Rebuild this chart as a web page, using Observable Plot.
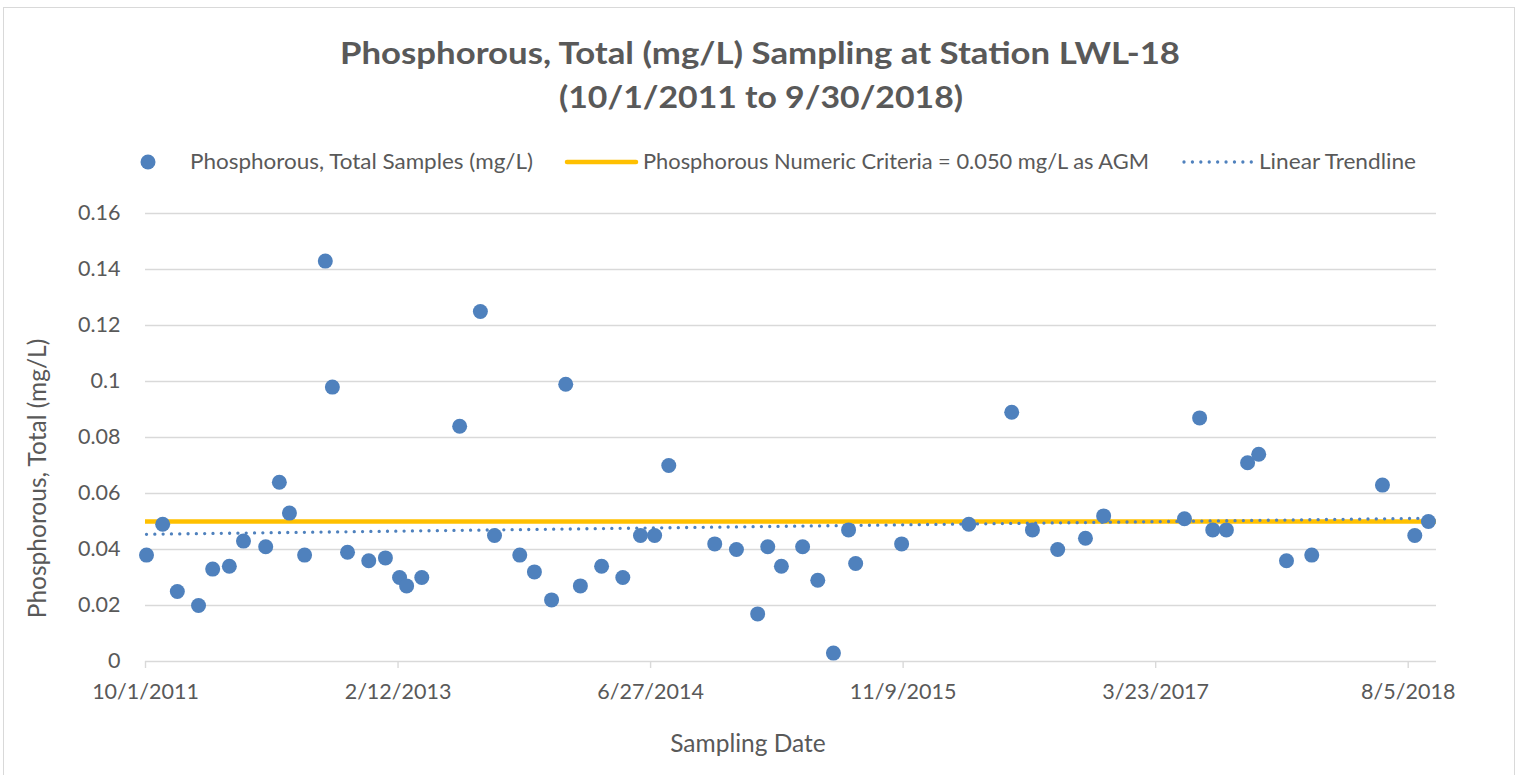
<!DOCTYPE html>
<html>
<head>
<meta charset="utf-8">
<script src="https://cdn.jsdelivr.net/npm/d3@7"></script>
<script src="https://cdn.jsdelivr.net/npm/@observablehq/plot@0.6"></script>
<style>
  html, body { margin: 0; padding: 0; background: #fff; }
  #chart { position: relative; width: 1519px; height: 775px; overflow: hidden; font-family: Lato, "Open Sans", sans-serif; color: #595959; }
  #frame { position: absolute; left: 3px; top: 7px; width: 1512px; height: 800px; border: 1.5px solid #d9d9d9; box-sizing: border-box; }
  #head { position: absolute; left: 0; top: 0; }
  #plot { position: absolute; left: 0; top: 195px; }
</style>
</head>
<body>
<div id="chart">
  <div id="frame"></div>
  <svg id="head" width="1519" height="195" font-family="Lato, 'Open Sans', sans-serif" fill="#595959"></svg>
  <div id="plot"></div>
</div>
<script>
// ---- data ----
const titleLines = ["Phosphorous, Total (mg/L) Sampling at Station LWL-18", "(10/1/2011 to 9/30/2018)"];
const legendLabels = ["Phosphorous, Total Samples (mg/L)", "Phosphorous Numeric Criteria = 0.050 mg/L as AGM", "Linear Trendline"];
const xAxisTitle = "Sampling Date";
const yAxisTitle = "Phosphorous, Total (mg/L)";

const sampleDates = [
  "2011-10-03","2011-11-04","2011-12-03","2012-01-14","2012-02-11","2012-03-15","2012-04-12","2012-05-26",
  "2012-06-22","2012-07-12","2012-08-11","2012-09-21","2012-10-05","2012-11-04","2012-12-16","2013-01-18",
  "2013-02-15","2013-03-01","2013-03-31","2013-06-14","2013-07-25","2013-08-22","2013-10-11","2013-11-09",
  "2013-12-13","2014-01-10","2014-02-08","2014-03-22","2014-05-03","2014-06-07","2014-07-05","2014-08-02",
  "2014-11-01","2014-12-14","2015-01-25","2015-02-14","2015-03-13","2015-04-24","2015-05-24","2015-06-24",
  "2015-07-24","2015-08-07","2015-11-06","2016-03-18","2016-06-11","2016-07-22","2016-09-10","2016-11-04",
  "2016-12-10","2017-05-19","2017-06-18","2017-07-14","2017-08-10","2017-09-21","2017-10-13","2017-12-07",
  "2018-01-26","2018-06-15","2018-08-18","2018-09-14"
];
const sampleValues = [
  0.038, 0.049, 0.025, 0.020, 0.033, 0.034, 0.043, 0.041,
  0.064, 0.053, 0.038, 0.143, 0.098, 0.039, 0.036, 0.037,
  0.030, 0.027, 0.030, 0.084, 0.125, 0.045, 0.038, 0.032,
  0.022, 0.099, 0.027, 0.034, 0.030, 0.045, 0.045, 0.070,
  0.042, 0.040, 0.017, 0.041, 0.034, 0.041, 0.029, 0.003,
  0.047, 0.035, 0.042, 0.049, 0.089, 0.047, 0.040, 0.044,
  0.052, 0.051, 0.087, 0.047, 0.047, 0.071, 0.074, 0.036,
  0.038, 0.063, 0.045, 0.050
];
const criteriaValue = 0.05;
const xDomain = ["2011-10-01", "2018-09-30"];
const xTickDates = ["2011-10-01","2013-02-12","2014-06-27","2015-11-09","2017-03-23","2018-08-05"];
const xTickLabels = ["10/1/2011","2/12/2013","6/27/2014","11/9/2015","3/23/2017","8/5/2018"];
const yTicks = [0, 0.02, 0.04, 0.06, 0.08, 0.1, 0.12, 0.14, 0.16];
const yTickLabels = ["0","0.02","0.04","0.06","0.08","0.1","0.12","0.14","0.16"];

const colors = { dots: "#4F81BD", criteria: "#FFC000", trend: "#4F81BD", text: "#595959", grid: "#d9d9d9" };

// ---- derived ----
const parse = d3.utcParse("%Y-%m-%d");
const samples = sampleDates.map((d, i) => ({ date: parse(d), value: sampleValues[i] }));
const xs = samples.map(d => +d.date), ys = samples.map(d => d.value);
const mx = d3.mean(xs), my = d3.mean(ys);
const slope = d3.sum(xs, (x, i) => (x - mx) * (ys[i] - my)) / d3.sum(xs, x => (x - mx) ** 2);
const intercept = my - slope * mx;
const trend = d3.extent(samples, d => d.date).map(d => ({ date: d, value: intercept + slope * (+d) }));

const xLabelMap = new Map(xTickDates.map((d, i) => [+parse(d), xTickLabels[i]]));
const yLabelMap = new Map(yTicks.map((v, i) => [v, yTickLabels[i]]));

// ---- header (title + legend) ----
const NS = "http://www.w3.org/2000/svg";
const head = document.getElementById("head");
function el(tag, attrs, text) {
  const e = document.createElementNS(NS, tag);
  for (const k in attrs) e.setAttribute(k, attrs[k]);
  if (text != null) e.textContent = text;
  head.appendChild(e);
  return e;
}
el("text", { x: 760, y: 64, "text-anchor": "middle", "font-weight": "bold", "font-size": 31, textLength: 840, lengthAdjust: "spacingAndGlyphs" }, titleLines[0]);
el("text", { x: 761, y: 108, "text-anchor": "middle", "font-weight": "bold", "font-size": 31, textLength: 404, lengthAdjust: "spacingAndGlyphs" }, titleLines[1]);

const ly = 162;
el("circle", { cx: 148, cy: ly, r: 7.5, fill: colors.dots });
el("text", { x: 190, y: ly + 7, "font-size": 21, textLength: 343, lengthAdjust: "spacingAndGlyphs" }, legendLabels[0]);
el("line", { x1: 567, x2: 636, y1: ly, y2: ly, stroke: colors.criteria, "stroke-width": 4.5, "stroke-linecap": "round" });
el("text", { x: 643, y: ly + 7, "font-size": 21, textLength: 506, lengthAdjust: "spacingAndGlyphs" }, legendLabels[1]);
el("line", { x1: 1184, x2: 1252, y1: ly, y2: ly, stroke: colors.trend, "stroke-width": 3.3, "stroke-linecap": "round", "stroke-dasharray": "0.01 8.4" });
el("text", { x: 1259, y: ly + 7, "font-size": 21, textLength: 157, lengthAdjust: "spacingAndGlyphs" }, legendLabels[2]);

// ---- plot ----
const plot = Plot.plot({
  width: 1519,
  height: 580,
  marginTop: 18,
  marginBottom: 114,
  marginLeft: 145,
  marginRight: 83,
  style: { fontFamily: "Lato, 'Open Sans', sans-serif", fontSize: "21.5px", color: colors.text, background: "transparent", overflow: "visible" },
  x: { type: "utc", domain: xDomain.map(parse) },
  y: { domain: [0, 0.16] },
  marks: [
    Plot.gridY(yTicks.filter(v => v > 0), { stroke: colors.grid, strokeOpacity: 1, strokeWidth: 1.4 }),
    Plot.ruleY([0], { stroke: colors.grid, strokeWidth: 1.4 }),
    Plot.axisY({ ticks: yTicks, tickFormat: d => yLabelMap.get(d), tickSize: 0, tickPadding: 25, fill: colors.text, label: null }),
    Plot.axisX({ ticks: xTickDates.map(parse), tickFormat: d => xLabelMap.get(+d), tickSize: 7, tickPadding: 15, stroke: colors.grid, strokeWidth: 1.4, fill: colors.text, label: null }),
    Plot.ruleY([criteriaValue], { stroke: colors.criteria, strokeWidth: 4.5 }),
    Plot.line(trend, { x: "date", y: "value", stroke: colors.trend, strokeWidth: 3.3, strokeDasharray: "0.01 8.3", strokeLinecap: "round" }),
    Plot.dot(samples, { x: "date", y: "value", r: 7.5, fill: colors.dots }),
    Plot.text([xAxisTitle], { frameAnchor: "bottom", textAnchor: "middle", lineAnchor: "middle", dx: -43, dy: 83, fill: colors.text, fontSize: 24.5 }),
    Plot.text([yAxisTitle], { frameAnchor: "left", textAnchor: "middle", lineAnchor: "middle", rotate: -90, dx: -107, dy: 41, fill: colors.text, fontSize: 24.5 })
  ]
});
document.getElementById("plot").appendChild(plot);
</script>
</body>
</html>
